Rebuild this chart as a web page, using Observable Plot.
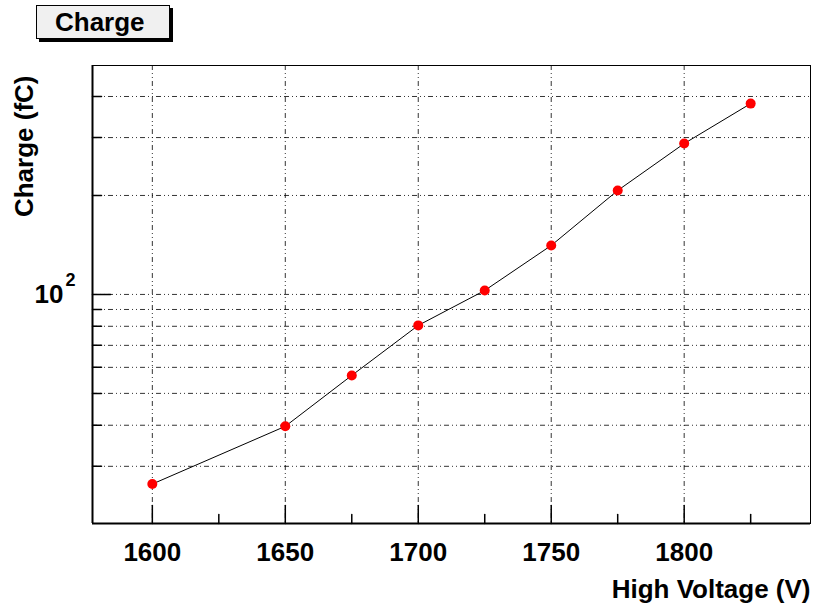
<!DOCTYPE html>
<html>
<head>
<meta charset="utf-8">
<script src="https://cdn.jsdelivr.net/npm/d3@7"></script>
<script src="https://cdn.jsdelivr.net/npm/@observablehq/plot@0.6"></script>
<style>
  html, body { margin: 0; padding: 0; background: #fff; }
  #wrap { position: relative; width: 820px; height: 611px; }
  #title {
    position: absolute; left: 36px; top: 5px; width: 134px; height: 34px;
    box-sizing: border-box; border: 1px solid #000; background: #f0f0f0;
    box-shadow: 3px 3px 0 #000;
    font: bold 26px "Liberation Sans", Arial, sans-serif;
    line-height: 33px; padding-left: 18px; color: #000;
  }
</style>
</head>
<body>
<div id="wrap"><div id="title">Charge</div></div>
<script>
// Data
const voltages = [1600, 1650, 1675, 1700, 1725, 1750, 1775, 1800, 1825];
const charges  = [26.5, 39.7, 56.7, 80.5, 102.8, 140.9, 207.1, 287.7, 380.6];

// Axes
const xDomain = [1577.5, 1847.5];
const yDomain = [20.1, 497];
const xMajor = [1600, 1650, 1700, 1750, 1800];
const xMinor = [1625, 1675, 1725, 1775, 1825];
const yMajor = [100];
const yMinor = [30, 40, 50, 60, 70, 80, 90, 200, 300, 400];
const yLabels = [{value: 100, base: "10", exp: "2"}];
const xTitle = "High Voltage (V)";
const yTitle = "Charge (fC)";

const data = voltages.map((v, i) => ({v, q: charges[i]}));
const tickShape = {draw(context, l) { context.moveTo(0, 0); context.lineTo(0, -l); }};
const gridStyle = {stroke: "#000", strokeOpacity: 0.8, strokeWidth: 1, strokeDasharray: "5,3,1,3,1,3"};
const font = {fontSize: 26, fontWeight: "bold", lineAnchor: "middle"};

const chart = Plot.plot({
  width: 820,
  height: 611,
  marginLeft: 92,
  marginRight: 10,
  marginTop: 65,
  marginBottom: 88,
  style: {fontFamily: "'Liberation Sans', Arial, sans-serif", background: "transparent", overflow: "visible", color: "#000"},
  x: {domain: xDomain, axis: null},
  y: {type: "log", domain: yDomain, axis: null},
  marks: [
    Plot.gridX(xMajor, gridStyle),
    Plot.gridY([...yMajor, ...yMinor], gridStyle),
    Plot.vector(xMajor, {x: d => d, frameAnchor: "bottom", length: 18, anchor: "start", shape: tickShape, stroke: "#000"}),
    Plot.vector(xMinor, {x: d => d, frameAnchor: "bottom", length: 9, anchor: "start", shape: tickShape, stroke: "#000"}),
    Plot.vector(yMajor, {y: d => d, frameAnchor: "left", length: 18, rotate: 90, anchor: "start", shape: tickShape, stroke: "#000"}),
    Plot.vector(yMinor, {y: d => d, frameAnchor: "left", length: 9, rotate: 90, anchor: "start", shape: tickShape, stroke: "#000"}),
    Plot.frame({stroke: "#000", strokeWidth: 1}),
    Plot.ruleX([xDomain[0]], {stroke: "#000", strokeWidth: 2}),
    Plot.ruleY([yDomain[0]], {stroke: "#000", strokeWidth: 2}),
    Plot.line(data, {x: "v", y: "q", stroke: "#000", strokeWidth: 1}),
    Plot.dot(data, {x: "v", y: "q", r: 5, fill: "#ff0000", stroke: null}),
    Plot.text(xMajor, {x: d => d, frameAnchor: "bottom", dy: 29, text: d => String(d), ...font}),
    Plot.text(yLabels, {y: "value", frameAnchor: "left", dx: -29, dy: 0, textAnchor: "end", text: "base", ...font}),
    Plot.text(yLabels, {y: "value", frameAnchor: "left", dx: -22, dy: -14, textAnchor: "middle", text: "exp", fontSize: 18, fontWeight: "bold", lineAnchor: "middle"}),
    Plot.text([xTitle], {frameAnchor: "bottom-right", dy: 66, textAnchor: "end", text: d => d, ...font}),
    Plot.text([yTitle], {frameAnchor: "top-left", dx: -68, dy: 10, rotate: -90, textAnchor: "end", text: d => d, ...font})
  ]
});
chart.style.position = "absolute";
chart.style.left = "0";
chart.style.top = "0";
const wrap = document.getElementById("wrap");
wrap.insertBefore(chart, wrap.firstChild);
</script>
</body>
</html>
